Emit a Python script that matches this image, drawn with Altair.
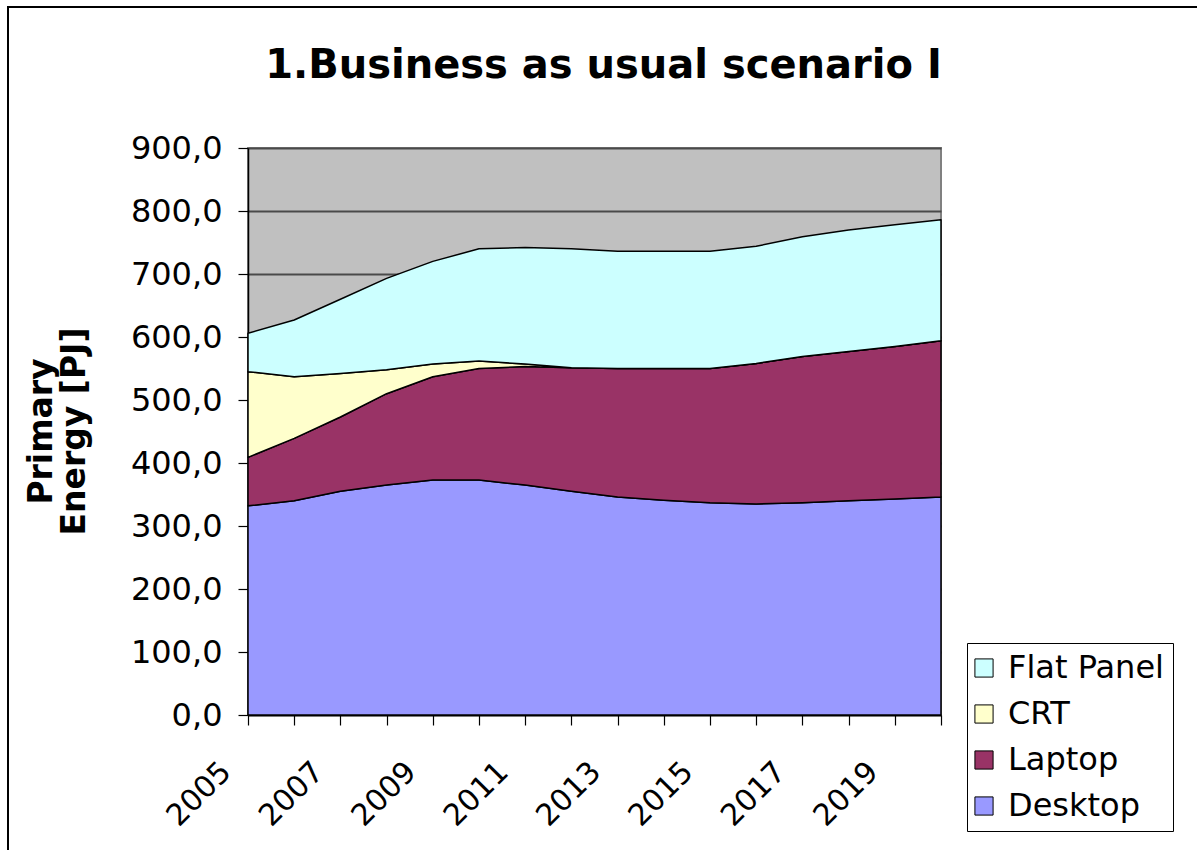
import altair as alt
import pandas as pd

years = list(range(2005, 2021))
desktop = [332, 340, 355, 365, 373, 373, 365, 355, 346, 341, 337, 335, 337, 340, 343, 346]
laptop = [77, 99, 118, 145, 164, 177, 188, 196, 204, 209, 213, 223, 232, 237, 242, 248]
crt = [136, 98, 69, 38, 20, 12, 4, 0, 0, 0, 0, 0, 0, 0, 0, 0]
flat_panel = [61, 90, 118, 145, 163, 178, 185, 189, 186, 186, 186, 186, 190, 193, 193, 192]

series_names = ["Desktop", "Laptop", "CRT", "Flat Panel"]
series_values = [desktop, laptop, crt, flat_panel]
legend_order = ["Flat Panel", "CRT", "Laptop", "Desktop"]
colors = ["#CCFFFF", "#FFFFCC", "#993366", "#9999FF"]
y_ticks = [0, 100, 200, 300, 400, 500, 600, 700, 800, 900]

rows = []
for k, (name, vals) in enumerate(zip(series_names, series_values)):
    for yr, v in zip(years, vals):
        rows.append({"year": yr, "series": name, "value": v, "order": k})
df = pd.DataFrame(rows)

FONT = "DejaVu Sans"

areas = alt.Chart(df).mark_area(stroke="black", strokeWidth=1.5, strokeJoin="round").encode(
    x=alt.X("year:Q",
            scale=alt.Scale(domain=[2005, 2020], nice=False, zero=False),
            axis=alt.Axis(values=years, title=None, grid=False,
                          labelExpr="datum.value % 2 == 1 ? format(datum.value, 'd') : ''",
                          labelAngle=315, labelAlign="right", labelBaseline="middle",
                          labelFontSize=30, labelFont=FONT, labelColor="black",
                          tickSize=10, tickColor="black", tickWidth=1.2,
                          domainColor="black", domainWidth=1.5, labelPadding=42,
                          labelOffset=-22, labelOverlap=False)),
    y=alt.Y("value:Q", stack="zero",
            scale=alt.Scale(domain=[0, 900], nice=False),
            axis=alt.Axis(values=y_ticks, title=["Primary", "Energy [PJ]"],
                          labelExpr="replace(format(datum.value, '.1f'), '.', ',')",
                          labelFontSize=32, labelFont=FONT, labelColor="black",
                          tickSize=10, tickColor="black", tickWidth=1.2,
                          domainColor="black", domainWidth=1.5, labelPadding=16,
                          grid=True, gridColor="#4a4a4a", gridWidth=1.8,
                          titleFont=FONT, titleFontSize=33, titleFontWeight="bold",
                          titleColor="black", titleAngle=270, titleAlign="center",
                          titleBaseline="alphabetic", titleLineHeight=33,
                          titleX=-197, titleY=283)),
    color=alt.Color("series:N",
                    scale=alt.Scale(domain=legend_order, range=colors),
                    legend=alt.Legend(title=None, orient="none", legendX=719, legendY=495,
                                      symbolType="square", symbolSize=330,
                                      symbolStrokeColor="black", symbolStrokeWidth=1,
                                      symbolOffset=-8,
                                      labelFont=FONT, labelFontSize=32, labelColor="black",
                                      labelOffset=8, rowPadding=14,
                                      fillColor="white", strokeColor="black",
                                      padding=9, symbolOpacity=1)),
    order=alt.Order("order:Q", sort="ascending"),
)

frame = alt.Chart(pd.DataFrame({"k": [0]})).mark_rect(
    fill=None, stroke="black", strokeWidth=2
).encode(x=alt.value(-240), x2=alt.value(965), y=alt.value(-141), y2=alt.value(720))

chart = alt.layer(areas, frame).properties(
    width=693, height=567,
    title=alt.TitleParams("1.Business as usual scenario I", font=FONT, fontSize=40,
                          fontWeight="bold", color="black", anchor="middle", dx=9,
                          baseline="alphabetic", offset=-112),
    autosize=alt.AutoSizeParams(type="none"),
    padding={"left": 248, "top": 148, "right": 256, "bottom": 135},
    background="white",
).configure_view(fill="#C0C0C0", stroke="#808080", strokeWidth=2)

chart.save("out.html", embed_options={"renderer": "svg", "actions": False})
